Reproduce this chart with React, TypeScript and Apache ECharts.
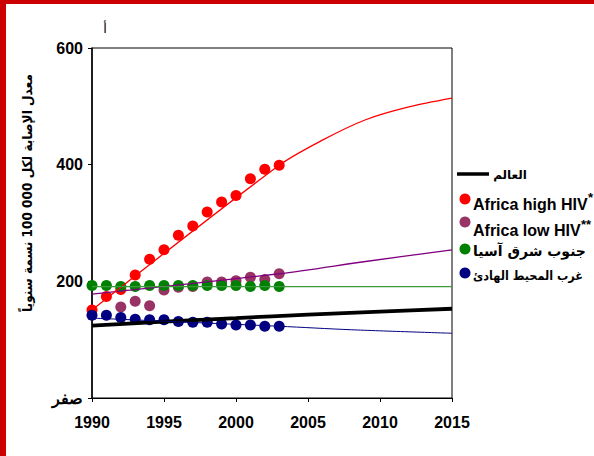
import React, { useEffect, useRef } from "react";
import * as echarts from "echarts";

// Observed data (1990-2003)
const dataYears = [1990, 1991, 1992, 1993, 1994, 1995, 1996, 1997, 1998, 1999, 2000, 2001, 2002, 2003];
const africaHigh = [151, 174, 186, 211, 238, 254, 279, 295, 319, 336, 347, 376, 392, 399];
const africaLow = [null, null, 156, 166, 158, 185, 190, 191, 199, 199, 201, 207, 203, 213];
const seAsia = [193, 193, 191, 191, 193, 193, 193, 193, 193, 193, 193, 191, 193, 191];
const westPacific = [142, 142, 138, 135, 134, 134, 131, 130, 130, 127, 125, 125, 123, 123];

// Trend / projection lines
const worldYears = [1990, 1995, 2000, 2005, 2010, 2015];
const worldValues = [124, 131, 137, 143, 148, 153];
const highTrendYears = [1990, 2003, 2006, 2009, 2012, 2015];
const highTrendValues = [151, 399, 442, 477, 499, 514];
const lowTrendYears = [1990, 2003, 2009, 2015];
const lowTrendValues = [178, 213, 234, 254];
const asiaTrendYears = [1990, 2015];
const asiaTrendValues = [191, 191];
const pacificTrendYears = [1990, 2003, 2008, 2015];
const pacificTrendValues = [137, 123, 117, 111];

const xTicks = { min: 1990, max: 2015, interval: 5 };
const yTicks = { min: 0, max: 600, interval: 200 };

const yTitle = "معدل الإصابة لكل 100\u00A0000 نسمة سنوياً";
const zeroLabel = "صفر";
const topMark = "أ";
const legendNames = ["العالم", "Africa high HIV", "Africa low HIV", "جنوب شرق آسيا", "غرب المحيط الهادئ"];

const LAT = "'Liberation Sans', Arial, sans-serif";
const AR = "'DejaVu Sans', sans-serif";
const ARC = "'DejaVu Sans Condensed', 'DejaVu Sans', sans-serif";

const pair = (xs: number[], ys: (number | null)[]) =>
  xs.map((x, i) => [x, ys[i]]).filter((p) => p[1] !== null);

export default function App() {
  const ref = useRef<HTMLDivElement>(null);
  useEffect(() => {
    if (!ref.current) return;
    const chart = echarts.init(ref.current, null, { renderer: "svg" });
    const dot = (name: string, color: string, d: any[]) => ({
      name,
      type: "scatter",
      data: d,
      symbol: "circle",
      symbolSize: 11,
      itemStyle: { color, opacity: 1 },
      emphasis: { disabled: true },
    });
    const line = (name: string, color: string, width: number, d: any[], smooth: any = 0.3) => ({
      name,
      type: "line",
      data: d,
      showSymbol: false,
      symbol: "none",
      smooth,
      lineStyle: { color, width },
      emphasis: { disabled: true },
    });
    const arText = (text: string, x: number, y: number, size: number, align: string, family = AR) => ({
      type: "text", x, y,
      style: { text, fontSize: size, fontWeight: "bold", fontFamily: family, fill: "#000", align, verticalAlign: "middle" },
    });
    chart.setOption({
      animation: false,
      backgroundColor: "#fff",
      grid: { left: 92, top: 48, width: 360, height: 350, show: true, borderColor: "#000", borderWidth: 1 },
      xAxis: {
        type: "value",
        min: xTicks.min,
        max: xTicks.max,
        interval: xTicks.interval,
        axisLine: { show: true, onZero: false, lineStyle: { color: "#000", width: 1 } },
        axisTick: { show: true, length: 4, lineStyle: { color: "#000" } },
        axisLabel: {
          fontFamily: LAT, fontWeight: "bold", fontSize: 16, color: "#000", margin: 16,
          formatter: (v: number) => String(v),
        },
        splitLine: { show: false },
      },
      yAxis: {
        type: "value",
        min: yTicks.min,
        max: yTicks.max,
        interval: yTicks.interval,
        axisLine: { show: true, lineStyle: { color: "#000", width: 1.5 } },
        axisTick: { show: true, length: 4, lineStyle: { color: "#000" } },
        axisLabel: {
          fontFamily: LAT,
          fontWeight: "bold",
          fontSize: 16,
          color: "#000",
          margin: 9,
          formatter: (v: number) => (v === 0 ? zeroLabel : String(v)),
        },
        splitLine: { show: false },
      },
      series: [
        line(legendNames[0], "#000", 3.8, pair(worldYears, worldValues)),
        line("lowTrend", "#800080", 1.3, pair(lowTrendYears, lowTrendValues)),
        dot(legendNames[2], "#993366", pair(dataYears, africaLow)),
        line("highTrend", "#ff0000", 1.3, pair(highTrendYears, highTrendValues)),
        dot(legendNames[1], "#ff0000", pair(dataYears, africaHigh)),
        line("asiaTrend", "#3c9a3c", 1.3, pair(asiaTrendYears, asiaTrendValues), false),
        dot(legendNames[3], "#008000", pair(dataYears, seAsia)),
        line("pacificTrend", "#000080", 1, pair(pacificTrendYears, pacificTrendValues)),
        dot(legendNames[4], "#000080", pair(dataYears, westPacific)),
      ],
      graphic: [
        { type: "rect", shape: { x: 0, y: 0, width: 6, height: 456 }, style: { fill: "#cc0000" } },
        { type: "rect", shape: { x: 0, y: 0, width: 594, height: 4 }, style: { fill: "#cc0000" } },
        {
          type: "text", x: 105, y: 28,
          style: { text: topMark, fontSize: 13, fontFamily: AR, fill: "#000", align: "center", verticalAlign: "middle" },
        },
        {
          type: "text", x: 27, y: 193, rotation: Math.PI / 2,
          style: { text: yTitle, fontSize: 13.5, fontWeight: "bold", fontFamily: ARC, fill: "#000", align: "center", verticalAlign: "middle" },
        },
        // legend
        { type: "line", shape: { x1: 457, y1: 174, x2: 489, y2: 174 }, style: { stroke: "#000", lineWidth: 3.5 } },
        arText(legendNames[0], 527, 175, 12, "right"),
        { type: "circle", shape: { cx: 465, cy: 199, r: 5.5 }, style: { fill: "#ff0000" } },
        {
          type: "text", x: 473, y: 204,
          style: { text: legendNames[1], fontSize: 16, fontWeight: "bold", fontFamily: LAT, fill: "#000", align: "left", verticalAlign: "middle" },
        },
        {
          type: "text", x: 588, y: 197,
          style: { text: "*", fontSize: 13, fontWeight: "bold", fontFamily: LAT, fill: "#000", align: "left", verticalAlign: "middle" },
        },
        { type: "circle", shape: { cx: 465, cy: 222, r: 5.5 }, style: { fill: "#993366" } },
        {
          type: "text", x: 473, y: 230,
          style: { text: legendNames[2], fontSize: 16, fontWeight: "bold", fontFamily: LAT, fill: "#000", align: "left", verticalAlign: "middle" },
        },
        {
          type: "text", x: 581, y: 224,
          style: { text: "**", fontSize: 13, fontWeight: "bold", fontFamily: LAT, fill: "#000", align: "left", verticalAlign: "middle" },
        },
        { type: "circle", shape: { cx: 465, cy: 249, r: 5.5 }, style: { fill: "#008000" } },
        arText(legendNames[3], 473, 251, 14, "left"),
        { type: "circle", shape: { cx: 465, cy: 273, r: 5.5 }, style: { fill: "#000080" } },
        arText(legendNames[4], 473, 275, 12.5, "left", ARC),
      ],
    });
    return () => chart.dispose();
  }, []);
  return <div ref={ref} style={{ position: "fixed", left: 0, top: 0, width: 594, height: 456 }} />;
}
